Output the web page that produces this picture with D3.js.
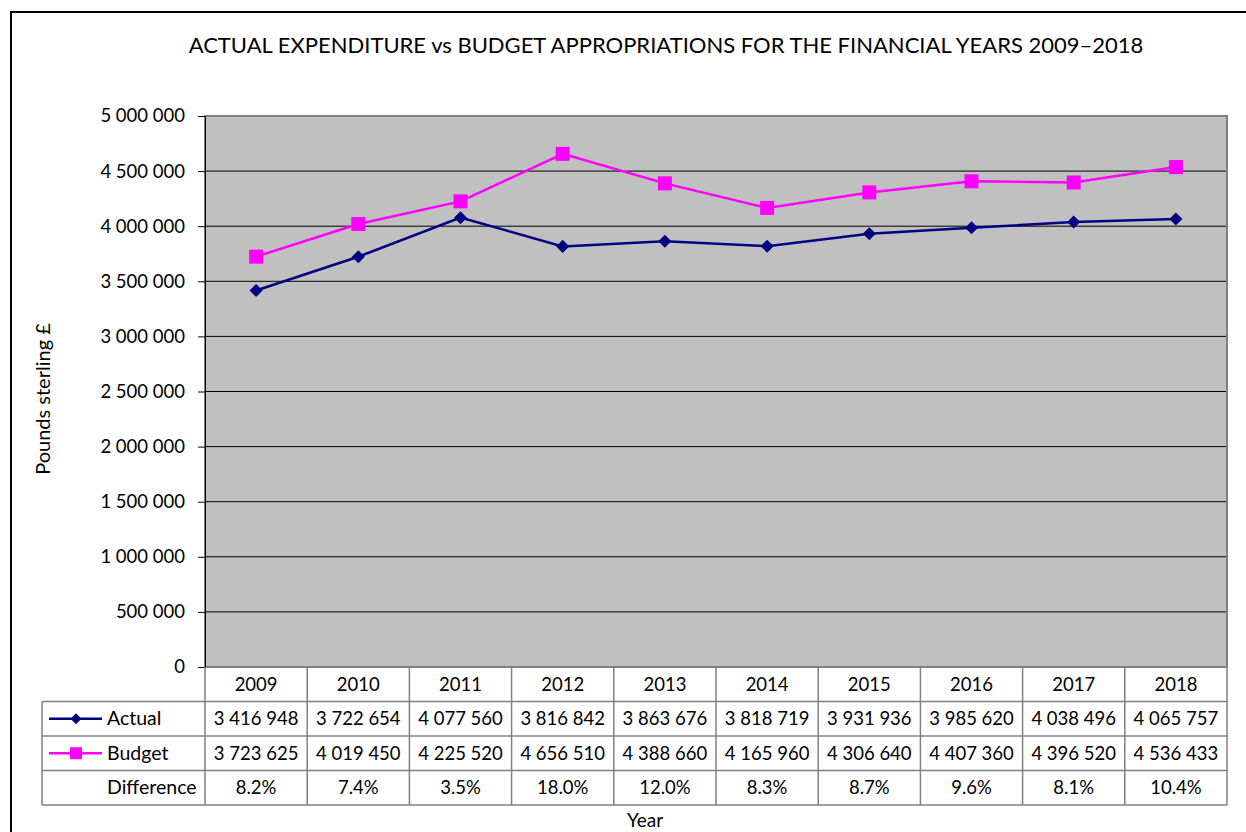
<!DOCTYPE html>
<html>
<head>
<meta charset="utf-8">
<script src="https://cdn.jsdelivr.net/npm/d3@7"></script>
<style>
  body { margin: 0; background: #fff; }
  svg { display: block; font-family: Lato, "Open Sans", sans-serif; }
</style>
</head>
<body>
<svg id="chart" width="1246" height="832"></svg>
<script>
// values
const years = ['2009', '2010', '2011', '2012', '2013', '2014', '2015', '2016', '2017', '2018'];
const actual = [3416948, 3722654, 4077560, 3816842, 3863676, 3818719, 3931936, 3985620, 4038496, 4065757];
const budget = [3723625, 4019450, 4225520, 4656510, 4388660, 4165960, 4306640, 4407360, 4396520, 4536433];
const difference = ['8.2%', '7.4%', '3.5%', '18.0%', '12.0%', '8.3%', '8.7%', '9.6%', '8.1%', '10.4%'];
const yTicks = [0, 500000, 1000000, 1500000, 2000000, 2500000, 3000000, 3500000, 4000000, 4500000, 5000000];

const svg = d3.select('#chart');

// plot area box
const plot = { left: 205, right: 1227, top: 116, bottom: 667 };
const rowH = 34.5;
const tableLeft = 42;
const numSize = 18.5;   // digits
const labelSize = 19.5; // words

const x = d3.scaleBand().domain(years).range([plot.left, plot.right]);
const y = d3.scaleLinear().domain([0, 5000000]).range([plot.bottom, plot.top]);

const fmt = v => d3.format(',')(v).replace(/,/g, ' ');

// outer frame
svg.append('rect')
  .attr('x', 11).attr('y', 12)
  .attr('width', 1250).attr('height', 840)
  .attr('fill', 'none').attr('stroke', '#000').attr('stroke-width', 2);

// title
svg.append('text')
  .attr('x', 666).attr('y', 53)
  .attr('text-anchor', 'middle')
  .attr('font-size', 22)
  .attr('fill', '#000')
  .text('ACTUAL EXPENDITURE vs BUDGET APPROPRIATIONS FOR THE FINANCIAL YEARS 2009\u20132018');

// grey plot background
svg.append('rect')
  .attr('x', plot.left).attr('y', plot.top)
  .attr('width', plot.right - plot.left).attr('height', plot.bottom - plot.top)
  .attr('fill', '#c0c0c0');

// gridlines
svg.append('g')
  .selectAll('line')
  .data(yTicks.filter(d => d > 0 && d < 5000000))
  .join('line')
    .attr('x1', plot.left).attr('x2', plot.right)
    .attr('y1', d => y(d)).attr('y2', d => y(d))
    .attr('stroke', '#000').attr('stroke-width', 1);

// plot border
svg.append('rect')
  .attr('x', plot.left).attr('y', plot.top)
  .attr('width', plot.right - plot.left).attr('height', plot.bottom - plot.top)
  .attr('fill', 'none').attr('stroke', '#808080').attr('stroke-width', 2);

// y axis
const yAxis = svg.append('g')
  .attr('transform', `translate(${plot.left},0)`)
  .call(d3.axisLeft(y).tickValues(yTicks).tickFormat(fmt).tickSize(7).tickPadding(13));
yAxis.select('.domain').attr('stroke', '#000');
yAxis.selectAll('.tick line').attr('stroke', '#000');
yAxis.selectAll('.tick text')
  .attr('font-size', numSize).attr('fill', '#000')
  .attr('font-family', 'Lato, "Open Sans", sans-serif');

svg.append('text')
  .attr('transform', 'translate(50,399) rotate(-90)')
  .attr('text-anchor', 'middle')
  .attr('font-size', 20)
  .text('Pounds sterling \u00a3');

// lines
const line = d3.line()
  .x((d, i) => x(years[i]) + x.bandwidth() / 2)
  .y(d => y(d));

svg.append('path')
  .datum(budget)
  .attr('d', line)
  .attr('fill', 'none').attr('stroke', '#ff00ff').attr('stroke-width', 2.5);

svg.append('path')
  .datum(actual)
  .attr('d', line)
  .attr('fill', 'none').attr('stroke', '#000080').attr('stroke-width', 2.5);

svg.append('g')
  .selectAll('path')
  .data(actual)
  .join('path')
    .attr('d', d3.symbol().type(d3.symbolSquare).size(85))
    .attr('transform', (d, i) => `translate(${x(years[i]) + x.bandwidth() / 2},${y(d)}) rotate(45)`)
    .attr('fill', '#000080');

svg.append('g')
  .selectAll('rect')
  .data(budget)
  .join('rect')
    .attr('x', (d, i) => x(years[i]) + x.bandwidth() / 2 - 7)
    .attr('y', d => y(d) - 7)
    .attr('width', 14).attr('height', 14)
    .attr('fill', '#ff00ff');

// data table
const table = svg.append('g');
const rows = [
  { label: 'Actual', values: actual.map(fmt), color: '#000080', marker: 'diamond' },
  { label: 'Budget', values: budget.map(fmt), color: '#ff00ff', marker: 'square' },
  { label: 'Difference', values: difference, color: null }
];
const tableTop = plot.bottom;
const tableBottom = tableTop + rowH * (rows.length + 1);

// header row with years
table.selectAll('text.year')
  .data(years)
  .join('text')
    .attr('class', 'year')
    .attr('x', d => x(d) + x.bandwidth() / 2)
    .attr('y', tableTop + rowH / 2 + 6.5)
    .attr('text-anchor', 'middle')
    .attr('font-size', numSize)
    .text(d => d);

rows.forEach((r, ri) => {
  const ty = tableTop + rowH * (ri + 1);
  table.selectAll(null)
    .data(r.values)
    .join('text')
      .attr('x', (d, i) => x(years[i]) + x.bandwidth() / 2)
      .attr('y', ty + rowH / 2 + 6.5)
      .attr('text-anchor', 'middle')
      .attr('font-size', numSize)
      .text(d => d);
  table.append('text')
    .attr('x', 107).attr('y', ty + rowH / 2 + 6.5)
    .attr('font-size', labelSize)
    .text(r.label);
  if (r.color) {
    const cy = ty + rowH / 2;
    table.append('line')
      .attr('x1', 49).attr('x2', 102)
      .attr('y1', cy).attr('y2', cy)
      .attr('stroke', r.color).attr('stroke-width', 2.5);
    if (r.marker === 'diamond') {
      table.append('path')
        .attr('d', d3.symbol().type(d3.symbolSquare).size(60))
        .attr('transform', `translate(76,${cy}) rotate(45)`)
        .attr('fill', r.color);
    } else {
      table.append('rect')
        .attr('x', 70).attr('y', cy - 6)
        .attr('width', 12).attr('height', 12)
        .attr('fill', r.color);
    }
  }
});

// table grid lines
const gridColor = '#808080';
for (let k = 1; k <= rows.length + 1; k++) {
  const yy = tableTop + rowH * k;
  table.append('line')
    .attr('x1', tableLeft).attr('x2', plot.right)
    .attr('y1', yy).attr('y2', yy)
    .attr('stroke', gridColor).attr('stroke-width', 1.5);
}
years.forEach(yr => {
  table.append('line')
    .attr('x1', x(yr)).attr('x2', x(yr))
    .attr('y1', tableTop).attr('y2', tableBottom)
    .attr('stroke', gridColor).attr('stroke-width', 1.5);
});
table.append('line')
  .attr('x1', plot.right).attr('x2', plot.right)
  .attr('y1', tableTop).attr('y2', tableBottom)
  .attr('stroke', gridColor).attr('stroke-width', 1.5);
table.append('line')
  .attr('x1', tableLeft).attr('x2', tableLeft)
  .attr('y1', tableTop + rowH).attr('y2', tableBottom)
  .attr('stroke', gridColor).attr('stroke-width', 1.5);

// x axis title
svg.append('text')
  .attr('x', 645).attr('y', 827)
  .attr('text-anchor', 'middle')
  .attr('font-size', 19)
  .text('Year');
</script>
</body>
</html>
